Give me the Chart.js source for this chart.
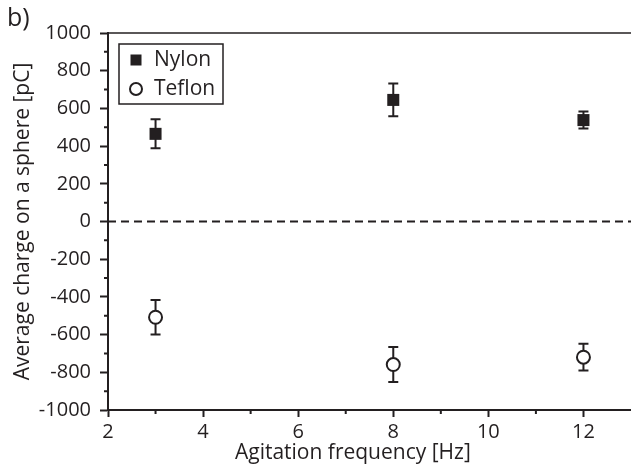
<!DOCTYPE html>
<html>
<head>
<meta charset="utf-8">
<script src="https://cdn.jsdelivr.net/npm/chart.js@4.4.0/dist/chart.umd.min.js"></script>
<style>
html, body { margin: 0; padding: 0; background: #fff; }
#chart { display: block; }
</style>
</head>
<body>
<canvas id="chart" width="631" height="471"></canvas>
<script>
// values
const freqs = [3, 8, 12];
const nylonMean = [465, 645, 538];
const nylonErr = [77, 87, 45];
const teflonMean = [-508, -759, -720];
const teflonErr = [92, 93, 71];
const xTicks = [2, 4, 6, 8, 10, 12];
const xMinorTicks = [3, 5, 7, 9, 11];
const yTicks = [-1000, -800, -600, -400, -200, 0, 200, 400, 600, 800, 1000];
const yMinorTicks = [-900, -700, -500, -300, -100, 100, 300, 500, 700, 900];

const ink = '#231f20';
const family = 'Open Sans';
Chart.defaults.font.family = family;
Chart.defaults.color = ink;

function toPoints(values) {
    return freqs.map((f, i) => ({ x: f, y: values[i] }));
}

// error bars, zero line, minor ticks, frame, legend and labels
const extras = {
    id: 'extras',
    beforeDatasetsDraw(chart) {
        const ctx = chart.ctx;
        const xs = chart.scales.x, ys = chart.scales.y;
        const area = chart.chartArea;
        ctx.save();
        // dashed zero line
        ctx.strokeStyle = ink;
        ctx.lineWidth = 2;
        ctx.setLineDash([8, 5]);
        const y0 = ys.getPixelForValue(0);
        ctx.beginPath();
        ctx.moveTo(area.left, y0);
        ctx.lineTo(area.right, y0);
        ctx.stroke();
        ctx.setLineDash([]);
        // error bars
        chart.data.datasets.forEach(ds => {
            ds.data.forEach((p, i) => {
                const px = xs.getPixelForValue(p.x);
                const top = ys.getPixelForValue(p.y + ds.errors[i]);
                const bot = ys.getPixelForValue(p.y - ds.errors[i]);
                ctx.beginPath();
                ctx.moveTo(px, top); ctx.lineTo(px, bot);
                ctx.moveTo(px - 5, top); ctx.lineTo(px + 5, top);
                ctx.moveTo(px - 5, bot); ctx.lineTo(px + 5, bot);
                ctx.stroke();
            });
        });
        ctx.restore();
    },
    afterDraw(chart) {
        const ctx = chart.ctx;
        const xs = chart.scales.x, ys = chart.scales.y;
        const area = chart.chartArea;
        ctx.save();
        ctx.strokeStyle = ink;
        ctx.fillStyle = ink;
        // top frame line
        ctx.lineWidth = 1.5;
        ctx.beginPath();
        ctx.moveTo(area.left, area.top);
        ctx.lineTo(area.right, area.top);
        ctx.stroke();
        // minor ticks
        ctx.lineWidth = 2;
        ctx.beginPath();
        yMinorTicks.forEach(v => {
            const py = ys.getPixelForValue(v);
            ctx.moveTo(area.left - 4, py); ctx.lineTo(area.left, py);
        });
        xMinorTicks.forEach(v => {
            const px = xs.getPixelForValue(v);
            ctx.moveTo(px, area.bottom); ctx.lineTo(px, area.bottom + 4);
        });
        ctx.stroke();
        // legend
        const lx = area.left + 11, ly = area.top + 11;
        ctx.lineWidth = 1.5;
        ctx.strokeRect(lx, ly, 104, 60);
        ctx.font = '21px "' + family + '"';
        ctx.textBaseline = 'middle';
        ctx.textAlign = 'left';
        chart.data.datasets.forEach((ds, i) => {
            const cy = ly + 16 + i * 29;
            const cx = lx + 17;
            if (ds.pointStyle === 'rect') {
                ctx.fillRect(cx - 5.5, cy - 5.5, 11, 11);
            } else {
                ctx.lineWidth = 2;
                ctx.beginPath();
                ctx.arc(cx, cy, 6, 0, Math.PI * 2);
                ctx.stroke();
            }
            ctx.fillText(ds.label, lx + 35, cy);
        });
        // x axis title
        ctx.textAlign = 'center';
        ctx.fillText('Agitation frequency [Hz]', xs.getPixelForValue(7.15), 453);
        // panel label
        ctx.font = '25px "' + family + '"';
        ctx.textAlign = 'left';
        ctx.fillText('b)', 7, 19);
        ctx.restore();
    }
};

new Chart(document.getElementById('chart'), {
    type: 'scatter',
    data: {
        datasets: [{
            label: 'Nylon',
            data: toPoints(nylonMean),
            errors: nylonErr,
            pointStyle: 'rect',
            pointRadius: 8.5,
            backgroundColor: ink,
            borderColor: ink,
            borderWidth: 0
        }, {
            label: 'Teflon',
            data: toPoints(teflonMean),
            errors: teflonErr,
            pointStyle: 'circle',
            pointRadius: 6.5,
            backgroundColor: '#fff',
            borderColor: ink,
            borderWidth: 2
        }]
    },
    options: {
        responsive: false,
        animation: false,
        layout: { autoPadding: false, padding: { top: 33, left: 0, right: 0, bottom: 0 } },
        plugins: {
            legend: { display: false },
            tooltip: { enabled: false }
        },
        scales: {
            x: {
                type: 'linear',
                min: 2,
                max: 13,
                afterBuildTicks: s => { s.ticks = xTicks.map(v => ({ value: v })); },
                afterFit: s => { s.height = 61; s.paddingLeft = 0; s.paddingRight = 0; },
                grid: { drawOnChartArea: false, drawTicks: true, tickLength: 7, tickWidth: 2, tickColor: ink },
                border: { color: ink, width: 2 },
                ticks: { color: ink, font: { size: 20 }, padding: 3, maxRotation: 0, callback: v => String(v) }
            },
            y: {
                min: -1000,
                max: 1000,
                afterBuildTicks: s => { s.ticks = yTicks.map(v => ({ value: v })); },
                afterFit: s => { s.width = 108; s.paddingTop = 0; s.paddingBottom = 0; },
                grid: { drawOnChartArea: false, drawTicks: true, tickLength: 8, tickWidth: 2, tickColor: ink },
                border: { color: ink, width: 2 },
                ticks: { color: ink, font: { size: 20 }, padding: 9, callback: v => String(v) },
                title: {
                    display: true,
                    text: 'Average charge on a sphere [pC]',
                    color: ink,
                    font: { size: 21 },
                    padding: { top: 10, bottom: 0 }
                }
            }
        }
    },
    plugins: [extras]
});
</script>
</body>
</html>
